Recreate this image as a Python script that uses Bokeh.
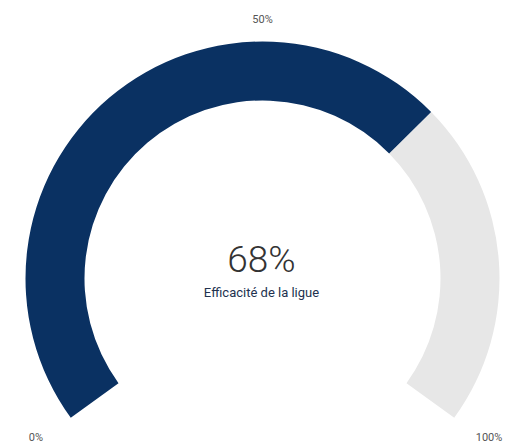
import numpy as np
from bokeh.plotting import figure
from bokeh.models import Range1d, ColumnDataSource
from bokeh.core.properties import value
from bokeh.embed import file_html
from bokeh.resources import INLINE

# ---- data ----
gauge_value = 68
gauge_min = 0
gauge_max = 100
tick_values = [0, 50, 100]
tick_labels = ["0%", "50%", "100%"]
center_label = "68%"
subtitle = "Efficacité de la ligue"

# ---- geometry / style ----
W, H = 513, 444
cx, cy = 262, 166
r_out, r_in = 237, 178
start_deg, end_deg = 216.0, -36.0
navy = "#0a3162"
track = "#e7e7e7"


def to_angle(v):
    frac = (v - gauge_min) / (gauge_max - gauge_min)
    return np.deg2rad(start_deg + (end_deg - start_deg) * frac)


p = figure(width=W, height=H, x_range=Range1d(0, W), y_range=Range1d(0, H),
           output_backend="svg", toolbar_location=None,
           x_axis_location=None, y_axis_location=None, min_border=0)
p.grid.visible = False
p.outline_line_color = None
p.background_fill_color = "white"
p.border_fill_color = "white"

a_start = to_angle(gauge_min)
a_val = to_angle(gauge_value)
a_end = to_angle(gauge_max)

# track (remaining part)
p.annular_wedge(x=[cx], y=[cy], inner_radius=r_in, outer_radius=r_out,
                start_angle=[a_val], end_angle=[a_end], direction="clock",
                fill_color=track, line_color=None)
# value arc
p.annular_wedge(x=[cx], y=[cy], inner_radius=r_in, outer_radius=r_out,
                start_angle=[a_start], end_angle=[a_val], direction="clock",
                fill_color=navy, line_color=None)

# tick labels
angs = np.array([to_angle(v) for v in tick_values])
lx = cx + 280 * np.cos(angs)
ly = cy + 263 * np.sin(angs) - 4
src = ColumnDataSource(dict(x=lx, y=ly, t=tick_labels))
p.text(x="x", y="y", text="t", source=src, text_align="center",
       text_baseline="middle", text_font=value("Roboto"),
       text_font_size="11px", text_color="#555555")

# center texts
p.text(x=[cx - 1], y=[185], text=[center_label], text_align="center",
       text_baseline="alphabetic", text_font=value("Roboto Light"),
       text_font_size="37px", text_color="#333333")
p.text(x=[cx - 1], y=[152], text=[subtitle], text_align="center",
       text_baseline="alphabetic", text_font=value("Roboto"),
       text_font_size="13px", text_color="#22324f")

open("out.html", "w").write(file_html(p, INLINE))
